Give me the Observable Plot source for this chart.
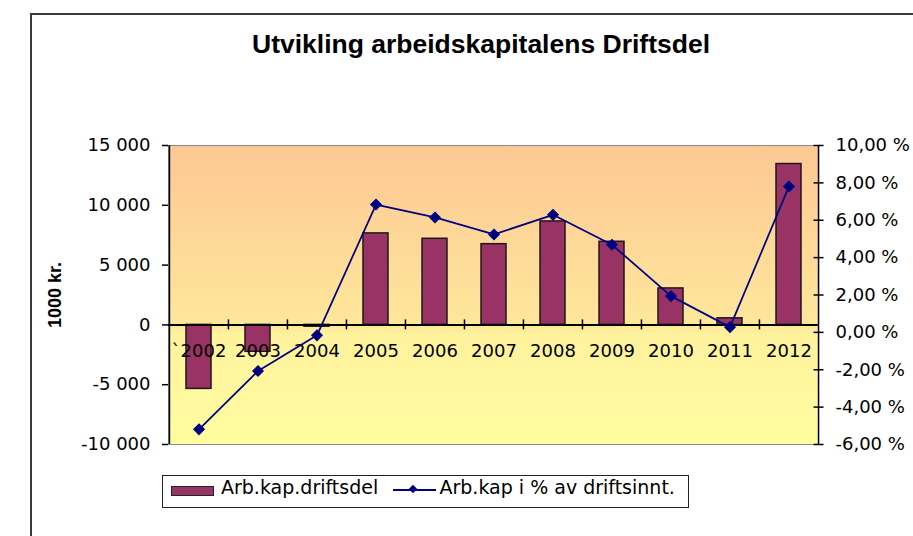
<!DOCTYPE html>
<html>
<head>
<meta charset="utf-8">
<script src="https://cdn.jsdelivr.net/npm/d3@7"></script>
<script src="https://cdn.jsdelivr.net/npm/@observablehq/plot@0.6"></script>
<style>
html,body{margin:0;padding:0;overflow:hidden;background:#fff;width:913px;height:536px;}
#outer{position:absolute;left:30px;top:13px;width:1000px;height:700px;border:2px solid #3a3a3a;box-sizing:border-box;}
#title{position:absolute;left:0;width:962px;top:31px;text-align:center;font:bold 26.5px "Liberation Sans",Arial,sans-serif;line-height:26.5px;color:#000;white-space:nowrap;}
.layer{position:absolute;left:0;top:120px;}
#legend{position:absolute;left:162px;top:475px;width:527px;height:33px;border:1.5px solid #222;box-sizing:border-box;background:#fff;font:19px "DejaVu Sans",sans-serif;color:#000;}
#legend span{position:absolute;white-space:nowrap;line-height:19px;}
</style>
</head>
<body>
<svg width="0" height="0" style="position:absolute">
  <defs>
    <linearGradient id="bg" x1="0" y1="0" x2="0" y2="1">
      <stop offset="0" stop-color="#fdc794"/>
      <stop offset="0.6" stop-color="#fee79b"/>
      <stop offset="0.63" stop-color="#fff29d"/>
      <stop offset="1" stop-color="#fffda0"/>
    </linearGradient>
  </defs>
</svg>
<div id="outer"></div>
<div id="title">Utvikling arbeidskapitalens Driftsdel</div>
<div id="chart1" class="layer"></div>
<div id="chart2" class="layer"></div>
<div id="legend">
  <div style="position:absolute;left:7.5px;top:9.5px;width:43px;height:10px;background:#993366;border:1px solid #222;box-sizing:border-box;"></div>
  <span style="left:58px;top:2px;">Arb.kap.driftsdel</span>
  <div style="position:absolute;left:229.5px;top:13px;width:43px;height:1.5px;background:#000080;"></div>
  <div style="position:absolute;left:247px;top:10px;width:6px;height:6px;background:#000080;transform:rotate(45deg);"></div>
  <span style="left:276.5px;top:2px;">Arb.kap i % av driftsinnt.</span>
</div>
<script>
const categories = ["`2002","2003","2004","2005","2006","2007","2008","2009","2010","2011","2012"];
const arbKap = [-5350,-2250,-150,7650,7200,6750,8650,6950,3050,550,13450];
const arbKapPct = [-5.19,-2.07,-0.16,6.84,6.15,5.24,6.29,4.69,1.94,0.28,7.81];
const kronerTicks = [-10000,-5000,0,5000,10000,15000];
const kronerTickLabels = ["-10 000","-5 000","0","5 000","10 000","15 000"];
const pctTicks = [-6,-4,-2,0,2,4,6,8,10];
const pctTickLabels = ["-6,00 %","-4,00 %","-2,00 %","0,00 %","2,00 %","4,00 %","6,00 %","8,00 %","10,00 %"];
const yLabel = "1000 kr.";

const data = categories.map((c, i) => ({cat: c, kr: arbKap[i], pct: arbKapPct[i]}));

const W = 913, H = 334, ml = 168, mr = 95, mt = 25, mb = 10;
const step = (W - ml - mr) / categories.length;
const last = categories[categories.length - 1];
const xScale = {type: "band", domain: categories, paddingInner: 0.58, paddingOuter: 0.29, axis: null, label: null};
const baseStyle = {fontFamily: "DejaVu Sans", fontSize: "18px", background: "transparent", overflow: "visible", color: "#000"};

const hTick = {draw(ctx) { ctx.moveTo(-5, 0); ctx.lineTo(5, 0); }};

const p1 = Plot.plot({
  width: W, height: H, marginLeft: ml, marginRight: mr, marginTop: mt, marginBottom: mb,
  style: baseStyle,
  x: xScale,
  y: {domain: [-10000, 15000], axis: null, label: null},
  marks: [
    Plot.frame({fill: "url(#bg)", stroke: "#8a8a8a", strokeWidth: 1}),
    Plot.axisY(kronerTicks, {anchor: "left", label: null, tickSize: 6, tickPadding: 12, strokeWidth: 1.5,
      tickFormat: d => kronerTickLabels[kronerTicks.indexOf(d)], fontSize: 18, fill: "#000"}),
    Plot.barY(data, {x: "cat", y: "kr", fill: "#993366", stroke: "#1a1a1a", strokeWidth: 1.5}),
    Plot.ruleY([0], {stroke: "#000", strokeWidth: 2}),
    Plot.ruleX(categories.slice(1), {x: d => d, dx: -step / 2, y1: 0, y2: 0, insetTop: -5, insetBottom: -5, stroke: "#000", strokeWidth: 1.5}),
    Plot.ruleX([categories[0]], {x: d => d, dx: -step / 2, stroke: "#000", strokeWidth: 1.5}),
    Plot.text(data, {x: "cat", y: () => 0, dy: 26, text: "cat", fontSize: 18, fill: "#000"}),
    Plot.text([yLabel], {frameAnchor: "left", textAnchor: "middle", rotate: -90, dx: -113, fontWeight: "bold", fontFamily: "Liberation Sans", fontSize: 18, fill: "#000"})
  ]
});
document.getElementById("chart1").appendChild(p1);

const p2 = Plot.plot({
  width: W, height: H, marginLeft: ml, marginRight: mr, marginTop: mt, marginBottom: mb,
  style: baseStyle,
  x: xScale,
  y: {domain: [-6, 10], axis: null, label: null},
  marks: [
    Plot.ruleX([last], {x: d => d, dx: step / 2, stroke: "#000", strokeWidth: 1.5}),
    Plot.dot(pctTicks, {x: () => last, y: d => d, dx: step / 2, symbol: hTick, fill: "none", stroke: "#000", strokeWidth: 1.5}),
    Plot.axisY(pctTicks, {anchor: "right", label: null, tickSize: 0, tickPadding: 17,
      tickFormat: d => pctTickLabels[pctTicks.indexOf(d)], fontSize: 18, fill: "#000"}),
    Plot.line(data, {x: "cat", y: "pct", stroke: "#000080", strokeWidth: 1.75}),
    Plot.dot(data, {x: "cat", y: "pct", symbol: "diamond2", r: 4.5, fill: "#000080", stroke: "#000080"})
  ]
});
document.getElementById("chart2").appendChild(p2);
</script>
</body>
</html>
